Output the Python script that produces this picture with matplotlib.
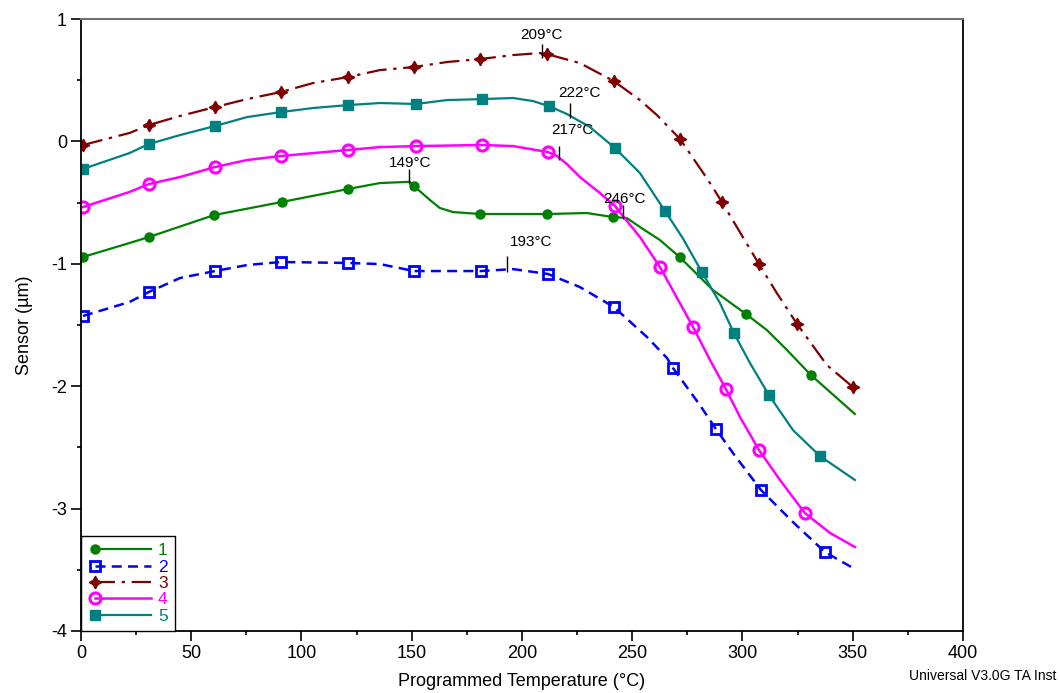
import matplotlib
matplotlib.use("Agg")
import numpy as np
import matplotlib.pyplot as plt
from matplotlib.lines import Line2D
from matplotlib.legend_handler import HandlerLine2D

plt.rcParams['font.family'] = ['Liberation Sans', 'DejaVu Sans']
plt.rcParams['axes.unicode_minus'] = False

# --- curve data (temperature °C, sensor µm) ---
t1 = [0.9, 22, 30.8, 60.5, 91, 121, 135.6, 149, 151, 158.3, 162.8, 168.7, 181, 211.3, 229.5,
      241.3, 247.6, 253.5, 262.6, 271.5, 286.6, 301.6, 311, 320.2, 331, 351]
s1 = [-0.944, -0.83, -0.781, -0.601, -0.495, -0.389, -0.34, -0.33, -0.364, -0.479, -0.544, -0.577,
      -0.593, -0.593, -0.585, -0.618, -0.626, -0.699, -0.806, -0.944, -1.214, -1.41, -1.54, -1.704,
      -1.908, -2.227]
m1 = [0, 2, 3, 4, 5, 8, 12, 13, 15, 19, 21, 24]

t2 = [0.9, 22, 30.8, 44.9, 60.8, 75.3, 90.7, 121.1, 135.6, 151, 181.4, 196, 211.8, 226.3, 241.7,
      256.7, 265.8, 268.5, 280.7, 288, 295.7, 308.4, 322.9, 330.6, 337.4, 351]
s2 = [-1.426, -1.312, -1.23, -1.116, -1.059, -1.01, -0.985, -0.993, -1.002, -1.059, -1.059, -1.043,
      -1.083, -1.19, -1.353, -1.598, -1.77, -1.851, -2.154, -2.35, -2.546, -2.848, -3.11, -3.24,
      -3.355, -3.494]
m2 = [0, 2, 4, 6, 7, 9, 10, 12, 14, 17, 19, 21, 24]

t3 = [0.9, 22, 30.8, 44.9, 60.8, 75.3, 90.7, 105.2, 121.1, 135.6, 151, 166, 181, 196, 208, 211.3,
      226.3, 241.7, 253.5, 261.2, 271.7, 284.4, 290.7, 307.5, 315.6, 324.7, 338.3, 350.1]
s3 = [-0.029, 0.069, 0.134, 0.208, 0.281, 0.346, 0.404, 0.477, 0.526, 0.583, 0.608, 0.649, 0.673,
      0.706, 0.722, 0.714, 0.64, 0.493, 0.338, 0.216, 0.02, -0.315, -0.495, -1.002, -1.239, -1.49,
      -1.827, -2.007]
m3 = [0, 2, 4, 6, 8, 10, 12, 15, 17, 20, 22, 23, 25, 27]

t4 = [0.9, 22, 30.8, 44.9, 60.8, 75.3, 90.7, 121.1, 135.6, 151.9, 181.9, 196, 211.8, 215.9, 220.4,
      226.3, 235.4, 242.2, 253.5, 262.6, 277.6, 285.3, 292.5, 298.9, 307.5, 317, 328.3, 339.7, 351]
s4 = [-0.536, -0.413, -0.348, -0.291, -0.209, -0.152, -0.119, -0.07, -0.046, -0.038, -0.029, -0.038,
      -0.087, -0.119, -0.185, -0.291, -0.422, -0.528, -0.781, -1.026, -1.516, -1.786, -2.023,
      -2.252, -2.521, -2.766, -3.036, -3.199, -3.314]
m4 = [0, 2, 4, 6, 7, 9, 10, 12, 17, 19, 20, 22, 24, 26]

t5 = [0.9, 22, 30.8, 44.9, 60.8, 75.3, 90.7, 105.2, 121.1, 135.6, 151.9, 166, 181.9, 196, 205,
      212.2, 220.4, 230.8, 242.2, 253.5, 264.9, 272.9, 281.6, 289.8, 296.1, 303.4, 312, 322.9,
      335.1, 351]
s5 = [-0.225, -0.095, -0.021, 0.052, 0.126, 0.199, 0.24, 0.273, 0.297, 0.314, 0.306, 0.338, 0.346,
      0.355, 0.33, 0.289, 0.224, 0.118, -0.054, -0.258, -0.569, -0.789, -1.067, -1.32, -1.565,
      -1.81, -2.072, -2.358, -2.57, -2.766]
m5 = [0, 2, 4, 6, 8, 10, 12, 15, 18, 20, 22, 24, 26, 28]

# annotations: (temperature, tick bottom, tick top, label x, label y)
notes = [
    (209, 0.681, 0.796, 209, 0.812),
    (222, 0.191, 0.314, 226.3, 0.338),
    (217, -0.152, -0.038, 223, 0.036),
    (149, -0.348, -0.225, 149.5, -0.234),
    (246, -0.634, -0.52, 246.7, -0.528),
    (193, -1.067, -0.936, 204, -0.879),
]


class LeftMarkerHandler(HandlerLine2D):
    # legend line with its marker near the left end
    def create_artists(self, legend, orig_handle, xdescent, ydescent, width, height,
                       fontsize, trans):
        arts = super().create_artists(legend, orig_handle, xdescent, ydescent, width,
                                      height, fontsize, trans)
        for a in arts:
            xd = a.get_xdata()
            a.set_xdata(np.linspace(xd[0] + 5, xd[-1], len(xd)))
            a.set_markevery([0])
        return arts


fig = plt.figure(figsize=(10.6, 6.93), dpi=100)
ax = fig.add_axes([0.0764, 0.0895, 0.832, 0.883])

ax.plot(t1, s1, color='#008000', lw=1.6, marker='o', ms=6.5, markevery=m1, label='1')
ax.plot(t2, s2, color='#0000FF', lw=1.8, ls=(0, (4, 2.5)), marker='s', ms=7.5, mfc='none',
        mew=2, markevery=m2, label='2')
ax.plot(t3, s3, color='#800000', lw=1.6, ls=(0, (9, 3, 1.5, 3)), marker=(4, 1, 0), ms=9,
        markevery=m3, label='3')
ax.plot(t4, s4, color='#FF00FF', lw=1.8, marker='o', ms=8, mfc='none', mew=2.2,
        markevery=m4, label='4')
ax.plot(t5, s5, color='#008080', lw=1.6, marker='s', ms=7.5, markevery=m5, label='5')

for temp, y0, y1, lx, ly in notes:
    ax.vlines(temp, y0, y1, color='black', lw=1)
    ax.text(lx, ly, f"{temp}°C", ha='center', va='bottom', fontsize=11)

ax.set_xlim(0, 400)
ax.set_ylim(-4, 1)
ax.set_xticks(range(0, 401, 50))
ax.set_xticks(range(25, 400, 50), minor=True)
ax.set_yticks(range(-4, 2))
ax.set_yticks([-3.5, -2.5, -1.5, -0.5, 0.5], minor=True)
ax.tick_params(which='major', direction='out', length=7, width=1.2, labelsize=13, pad=3)
ax.tick_params(which='minor', direction='out', length=3, width=1.2)

for side in ['left', 'bottom', 'right']:
    ax.spines[side].set_color('black')
    ax.spines[side].set_linewidth(1.3)
ax.spines['top'].set_color('#707070')
ax.spines['top'].set_linewidth(1.5)

ax.set_xlabel('Programmed Temperature (°C)', fontsize=13, labelpad=8)
ax.set_ylabel('Sensor (µm)', fontsize=13, labelpad=13)

leg = ax.legend(loc='lower left', borderaxespad=0, fancybox=False, edgecolor='black',
                framealpha=1, fontsize=12.5, handlelength=3.6, handletextpad=0.42,
                labelspacing=0.07, borderpad=0.42, labelcolor='linecolor',
                handler_map={Line2D: LeftMarkerHandler(numpoints=1)})
leg.get_frame().set_linewidth(1)

fig.text(0.997, 0.014, 'Universal V3.0G TA Inst', ha='right', va='bottom', fontsize=10)

fig.savefig('out.png', dpi=100)
